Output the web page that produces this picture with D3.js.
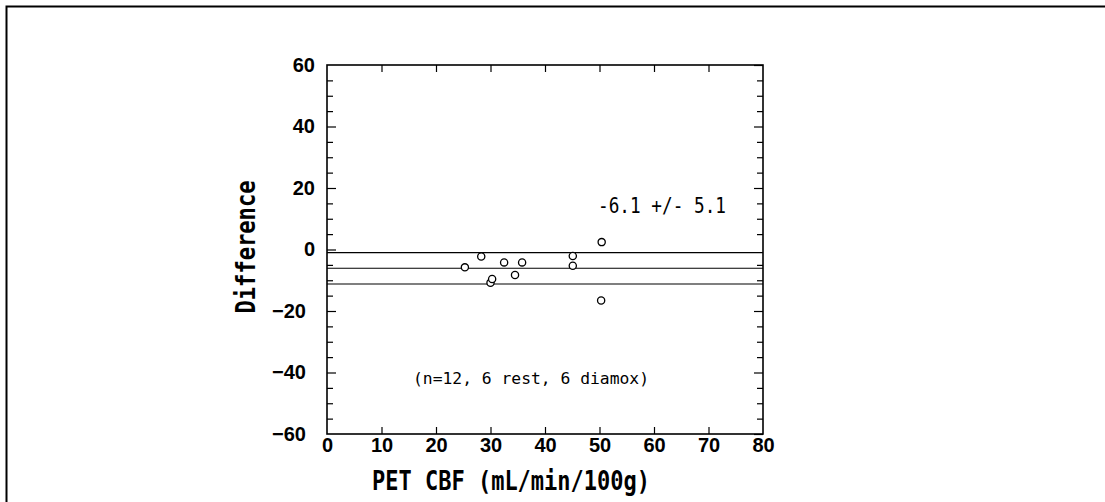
<!DOCTYPE html>
<html>
<head>
<meta charset="utf-8">
<script src="https://cdn.jsdelivr.net/npm/d3@7"></script>
<style>
  body { margin: 0; background: #fff; }
  svg { display: block; }
</style>
</head>
<body>
<div class="chart"></div>
<script>
// Bland-Altman style plot: PET CBF vs difference
const petCbf = [25.3, 28.3, 30.0, 30.3, 32.5, 34.5, 35.8, 45.1, 45.1, 50.3, 50.4];
const difference = [-5.8, -2.3, -10.8, -9.6, -4.2, -8.3, -4.2, -2.1, -5.3, -16.6, 2.4];
const meanDiff = -6.1;
const sdDiff = 5.1;
const xTicks = [0, 10, 20, 30, 40, 50, 60, 70, 80];
const yTicks = [-60, -40, -20, 0, 20, 40, 60];
const summaryLabel = '-6.1 +/- 5.1';
const noteLabel = '(n=12, 6 rest, 6 diamox)';

const W = 1105, H = 502;
const margin = { top: 65, left: 327, right: 1105 - 763, bottom: 502 - 434 };
const width = W - margin.left - margin.right;
const height = H - margin.top - margin.bottom;

const root = d3.select('.chart')
  .append('svg')
    .attr('width', W)
    .attr('height', H);

// page frame (top + left only)
root.append('path')
  .attr('d', `M6.5,${H} V6.5 H${W}`)
  .attr('fill', 'none')
  .attr('stroke', '#000')
  .attr('stroke-width', 2);

const svg = root.append('g')
  .attr('transform', `translate(${margin.left}, ${margin.top})`);

const x = d3.scaleLinear().domain([0, 80]).range([0, width]);
const y = d3.scaleLinear().domain([-60, 60]).range([height, 0]);

const tickFont = 'Liberation Sans, Arial, sans-serif';
const monoFont = 'DejaVu Sans Mono, Liberation Mono, monospace';

// minor ticks every 5 on y (left + right)
const minorY = d3.range(-60, 61, 5).filter(v => v % 20 !== 0);
svg.append('g').call(d3.axisLeft(y).tickValues(minorY).tickSize(-6).tickFormat(''));
svg.append('g').attr('transform', `translate(${width},0)`)
  .call(d3.axisRight(y).tickValues(minorY).tickSize(-6).tickFormat(''));

// major y ticks with labels
const yAxisG = svg.append('g')
  .call(d3.axisLeft(y).tickValues(yTicks).tickSize(-9).tickPadding(12));
yAxisG.selectAll('text')
  .attr('x', d => d < 0 ? -21 : -12)
  .text(d => d < 0 ? '\u2212' + Math.abs(d) : d);
svg.append('g').attr('transform', `translate(${width},0)`)
  .call(d3.axisRight(y).tickValues(yTicks).tickSize(-9).tickFormat(''));

// x ticks bottom + top
const xAxisG = svg.append('g').attr('transform', `translate(0,${height})`)
  .call(d3.axisBottom(x).tickValues(xTicks).tickSize(-7).tickPadding(3.5));
svg.append('g')
  .call(d3.axisTop(x).tickValues(xTicks).tickSize(-7).tickFormat(''));

svg.selectAll('.domain').remove();
svg.selectAll('.tick line').attr('stroke', '#000').attr('stroke-width', 1.2);
svg.selectAll('.tick text')
  .attr('fill', '#000')
  .style('font-family', tickFont)
  .style('font-weight', 'bold')
  .style('font-size', '20px');
// hide end ticks on the frame itself
svg.selectAll('.tick').filter(d => d === 0 || d === 80).select('line')
  .attr('stroke-opacity', d => d === 80 || d === 0 ? 0 : 1);
yAxisG.selectAll('.tick line').attr('stroke-opacity', d => Math.abs(d) === 60 ? 0 : 1);

// plot frame
svg.append('rect')
  .attr('width', width)
  .attr('height', height)
  .attr('fill', 'none')
  .attr('stroke', '#000')
  .attr('stroke-width', 1.6);

// mean and +/- SD lines
svg.selectAll('.ref')
  .data([meanDiff + sdDiff, meanDiff, meanDiff - sdDiff])
  .enter()
  .append('line')
  .attr('class', 'ref')
  .attr('x1', 0)
  .attr('x2', width)
  .attr('y1', d => y(d))
  .attr('y2', d => y(d))
  .attr('stroke', '#000')
  .attr('stroke-width', 1.1);

// points
svg.selectAll('.pt')
  .data(petCbf.map((v, i) => ({ x: v, y: difference[i] })))
  .enter()
  .append('circle')
  .attr('class', 'pt')
  .attr('cx', d => x(d.x))
  .attr('cy', d => y(d.y))
  .attr('r', 3.6)
  .attr('fill', '#fff')
  .attr('stroke', '#000')
  .attr('stroke-width', 1.3);

// annotations
root.append('text')
  .attr('x', 598)
  .attr('y', 213)
  .attr('textLength', 128)
  .attr('lengthAdjust', 'spacingAndGlyphs')
  .style('font-family', monoFont)
  .style('font-size', '21px')
  .text(summaryLabel);

root.append('text')
  .attr('x', 413)
  .attr('y', 384)
  .attr('textLength', 236)
  .attr('lengthAdjust', 'spacingAndGlyphs')
  .style('font-family', monoFont)
  .style('font-size', '16px')
  .text(noteLabel);

// axis titles
root.append('text')
  .attr('x', 511)
  .attr('y', 490)
  .attr('text-anchor', 'middle')
  .attr('textLength', 278)
  .attr('lengthAdjust', 'spacingAndGlyphs')
  .style('font-family', monoFont)
  .style('font-weight', 'bold')
  .style('font-size', '26px')
  .text('PET CBF (mL/min/100g)');

root.append('text')
  .attr('transform', 'translate(255,247) rotate(-90)')
  .attr('text-anchor', 'middle')
  .attr('textLength', 133)
  .attr('lengthAdjust', 'spacingAndGlyphs')
  .style('font-family', monoFont)
  .style('font-weight', 'bold')
  .style('font-size', '26px')
  .text('Difference');
</script>
</body>
</html>
